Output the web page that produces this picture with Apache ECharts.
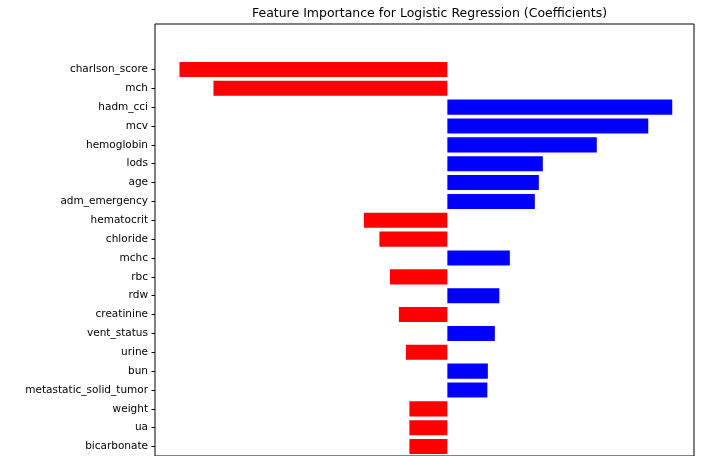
<!DOCTYPE html>
<html>
<head>
<meta charset="utf-8">
<script src="https://cdn.jsdelivr.net/npm/echarts@6/dist/echarts.min.js"></script>
<style>
  html, body { margin: 0; padding: 0; background: #fff; }
  #chart { width: 702px; height: 456px; }
</style>
</head>
<body>
<div id="chart"></div>
<script>
// feature names, top to bottom as in the figure (the rest is cut off below)
const features = [
  'charlson_score', 'mch', 'hadm_cci', 'mcv', 'hemoglobin', 'lods', 'age',
  'adm_emergency', 'hematocrit', 'chloride', 'mchc', 'rbc', 'rdw', 'creatinine',
  'vent_status', 'urine', 'bun', 'metastatic_solid_tumor', 'weight', 'ua', 'bicarbonate'
];

// logistic regression coefficients
const coefficients = [
  -0.536, -0.468, 0.450, 0.402, 0.299, 0.191, 0.183,
  0.175, -0.167, -0.136, 0.125, -0.115, 0.104, -0.097,
  0.095, -0.083, 0.081, 0.080, -0.076, -0.076, -0.076
];

const xMin = -0.585;
const xMax = 0.4935;

const chart = echarts.init(document.getElementById('chart'), null, { renderer: 'canvas' });

const barData = coefficients.map((v) => ({
  value: v,
  itemStyle: { color: v < 0 ? '#ff0000' : '#0000ff' }
}));

chart.setOption({
  animation: false,
  backgroundColor: '#fff',
  textStyle: { fontFamily: 'DejaVu Sans' },
  title: {
    text: 'Feature Importance for Logistic Regression (Coefficients)',
    left: 424.5,
    top: 2,
    textAlign: 'center',
    textStyle: { fontSize: 12.5, fontWeight: 'normal', color: '#000', fontFamily: 'DejaVu Sans' }
  },
  grid: [
    // frame of the axes box (bottom edge is outside the picture)
    { left: 155, right: 8, top: 24, bottom: -20, show: true, borderColor: '#000', borderWidth: 1, backgroundColor: 'transparent' },
    // data area, starts lower because of the top margin
    { left: 155, right: 8, top: 60, bottom: -2 }
  ],
  xAxis: [
    { gridIndex: 0, type: 'value', show: false, min: xMin, max: xMax },
    { gridIndex: 1, type: 'value', show: false, min: xMin, max: xMax }
  ],
  yAxis: [
    { gridIndex: 0, type: 'value', show: false },
    {
      gridIndex: 1,
      type: 'category',
      inverse: true,
      data: features,
      axisLine: { show: false, onZero: false },
      axisTick: { show: true, alignWithLabel: true, length: 3.5, lineStyle: { color: '#000', width: 1 } },
      axisLabel: { color: '#000', fontSize: 10.5, margin: 7, fontFamily: 'DejaVu Sans' },
      splitLine: { show: false }
    }
  ],
  series: [
    {
      type: 'bar',
      xAxisIndex: 1,
      yAxisIndex: 1,
      data: barData,
      barWidth: '80%'
    }
  ]
});
</script>
</body>
</html>
